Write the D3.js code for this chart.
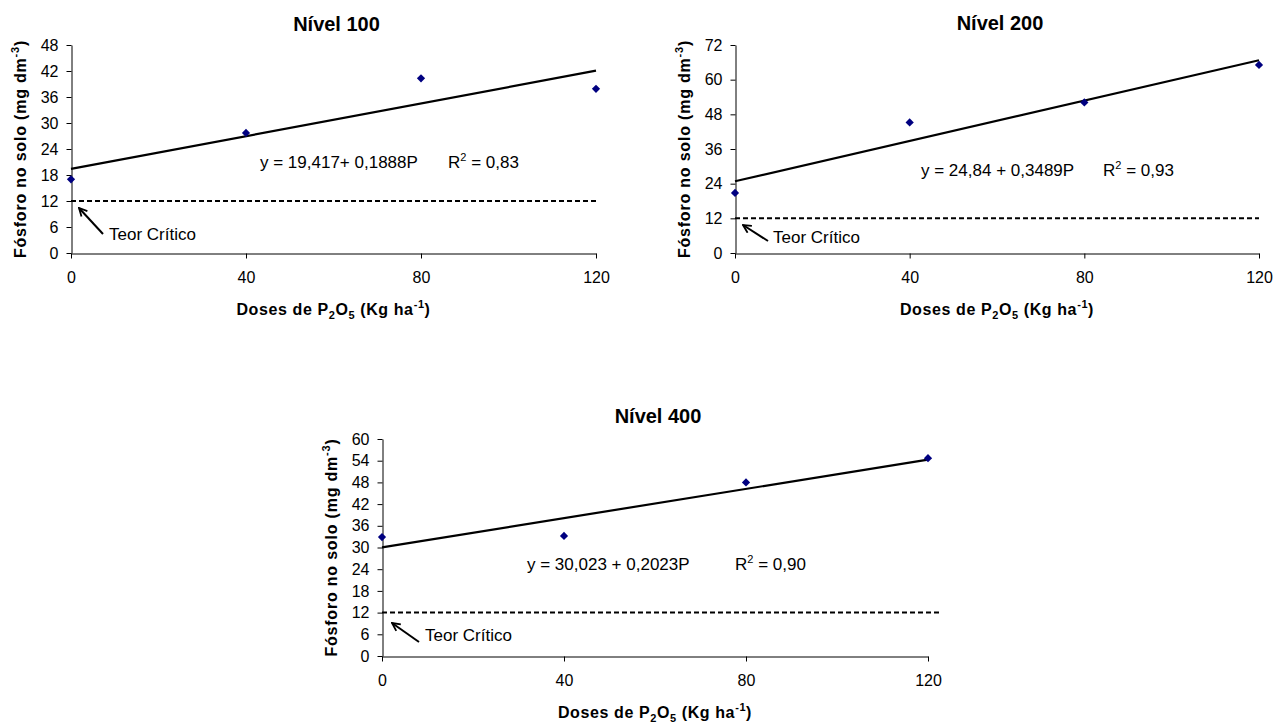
<!DOCTYPE html>
<html>
<head>
<meta charset="utf-8">
<script src="https://cdn.jsdelivr.net/npm/d3@7/dist/d3.min.js"></script>
<style>
  html, body { margin: 0; padding: 0; background: #fff; }
  svg { display: block; font-family: "Liberation Sans", Arial, sans-serif; }
</style>
</head>
<body>
<svg id="chart" width="1275" height="726"></svg>
<script>
// ---------- data ----------
const panelTitles = ["Nível 100", "Nível 200", "Nível 400"];
const doses = [0, 40, 80, 120];
const fosforo100 = [17.0, 27.7, 40.3, 37.9];
const fosforo200 = [20.8, 45.2, 52.1, 65.1];
const fosforo400 = [32.9, 33.2, 48.0, 54.7];
const intercepts = [19.417, 24.84, 30.023];
const slopes = [0.1888, 0.3489, 0.2023];
const equations = ["y = 19,417+ 0,1888P", "y = 24,84 + 0,3489P", "y = 30,023 + 0,2023P"];
const r2Values = ["0,83", "0,93", "0,90"];
const yMaxima = [48, 72, 60];
const yTickLabels = [
  [0, 6, 12, 18, 24, 30, 36, 42, 48],
  [0, 12, 24, 36, 48, 60, 72],
  [0, 6, 12, 18, 24, 30, 36, 42, 48, 54, 60]
];
const xTickLabels = [0, 40, 80, 120];
const teorCritico = 12;
const critEnd = [120.3, 120, 122.6];

// ---------- layout (positions only) ----------
const layout = [
  { x0: 71,  x1: 596,  yTop: 45,  yBot: 253, titleY: 31,  eq: [260, 168], r2: [448, 168], teor: [109, 240], arrow: [[103, 234], [79, 208]] },
  { x0: 735, x1: 1259, yTop: 45,  yBot: 253, titleY: 30,  eq: [921, 176], r2: [1103, 176], teor: [773, 243], arrow: [[768, 241], [743, 225]] },
  { x0: 382, x1: 928,  yTop: 439, yBot: 656, titleY: 423, eq: [527, 570], r2: [735, 570], teor: [425, 641], arrow: [[419, 642], [392, 623]] }
];
const series = [fosforo100, fosforo200, fosforo400];

const svg = d3.select("#chart");

svg.append("defs").append("marker")
  .attr("id", "arrowhead")
  .attr("viewBox", "0 0 10 10")
  .attr("refX", 9).attr("refY", 5)
  .attr("markerWidth", 5).attr("markerHeight", 5)
  .attr("orient", "auto")
  .append("path")
  .attr("d", "M1,1 L9,5 L1,9")
  .attr("fill", "none")
  .attr("stroke", "#000")
  .attr("stroke-width", 1.8);

layout.forEach((L, i) => {
  const g = svg.append("g");
  const x = d3.scaleLinear().domain([0, 120]).range([L.x0, L.x1]);
  const y = d3.scaleLinear().domain([0, yMaxima[i]]).range([L.yBot, L.yTop]);

  // title
  g.append("text")
    .attr("x", (L.x0 + L.x1) / 2 + 3).attr("y", L.titleY)
    .attr("text-anchor", "middle")
    .attr("font-size", 20).attr("font-weight", "bold")
    .text(panelTitles[i]);

  // y axis
  const yAxis = g.append("g")
    .attr("transform", `translate(${L.x0 + 0.5},0)`)
    .call(d3.axisLeft(y).tickValues(yTickLabels[i]).tickSize(5).tickSizeOuter(0).tickPadding(8));
  // x axis
  const xAxis = g.append("g")
    .attr("transform", `translate(0,${L.yBot + 0.5})`)
    .call(d3.axisBottom(x).tickValues(xTickLabels).tickSize(5).tickSizeOuter(0).tickPadding(13));
  [yAxis, xAxis].forEach(a => {
    a.selectAll("text").attr("font-size", 16).attr("fill", "#000")
      .attr("font-family", '"Liberation Sans", Arial, sans-serif');
    a.selectAll("line, path").attr("stroke", "#000").attr("stroke-width", 1);
  });

  // axis titles
  const xt = g.append("text")
    .attr("x", (L.x0 + L.x1) / 2).attr("y", L.yBot + 62)
    .attr("text-anchor", "middle")
    .attr("font-size", 16).attr("font-weight", "bold")
    .attr("letter-spacing", 0.6);
  xt.append("tspan").text("Doses de P");
  xt.append("tspan").attr("font-size", 11).attr("dy", 4).text("2");
  xt.append("tspan").attr("dy", -4).text("O");
  xt.append("tspan").attr("font-size", 11).attr("dy", 4).text("5");
  xt.append("tspan").attr("dy", -4).text(" (Kg ha");
  xt.append("tspan").attr("font-size", 11).attr("dy", -7).text("-1");
  xt.append("tspan").attr("dy", 7).text(")");

  const cy = (L.yTop + L.yBot) / 2;
  const yt = g.append("text")
    .attr("transform", `translate(${L.x0 - 45},${cy}) rotate(-90)`)
    .attr("text-anchor", "middle")
    .attr("font-size", 16).attr("font-weight", "bold")
    .attr("letter-spacing", 0.8);
  yt.append("tspan").text("Fósforo no solo (mg dm");
  yt.append("tspan").attr("font-size", 11).attr("dy", -7).text("-3");
  yt.append("tspan").attr("dy", 7).text(")");

  // critical level dashed line
  g.append("line")
    .attr("x1", x(0)).attr("x2", x(critEnd[i]))
    .attr("y1", y(teorCritico)).attr("y2", y(teorCritico))
    .attr("stroke", "#000").attr("stroke-width", 2)
    .attr("stroke-dasharray", "5,3");

  // trend line
  const line = d3.line().x(d => x(d)).y(d => y(intercepts[i] + slopes[i] * d));
  g.append("path")
    .datum([0, 120])
    .attr("d", line)
    .attr("fill", "none").attr("stroke", "#000").attr("stroke-width", 2.2);

  // points
  g.selectAll(".pt").data(doses.map((d, k) => [d, series[i][k]]))
    .enter().append("path")
    .attr("d", d3.symbol(d3.symbolSquare, 34)())
    .attr("transform", d => `translate(${x(d[0])},${y(d[1])}) rotate(45)`)
    .attr("fill", "#000080");

  // equation and R2
  g.append("text").attr("x", L.eq[0]).attr("y", L.eq[1])
    .attr("font-size", 17).text(equations[i]);
  const r = g.append("text").attr("x", L.r2[0]).attr("y", L.r2[1]).attr("font-size", 17);
  r.append("tspan").text("R");
  r.append("tspan").attr("font-size", 11).attr("dy", -7).text("2");
  r.append("tspan").attr("dy", 7).text(" = " + r2Values[i]);

  // Teor Crítico annotation
  g.append("text").attr("x", L.teor[0]).attr("y", L.teor[1])
    .attr("font-size", 17).text("Teor Crítico");
  g.append("line")
    .attr("x1", L.arrow[0][0]).attr("y1", L.arrow[0][1])
    .attr("x2", L.arrow[1][0]).attr("y2", L.arrow[1][1])
    .attr("stroke", "#000").attr("stroke-width", 2)
    .attr("marker-end", "url(#arrowhead)");
});
</script>
</body>
</html>
